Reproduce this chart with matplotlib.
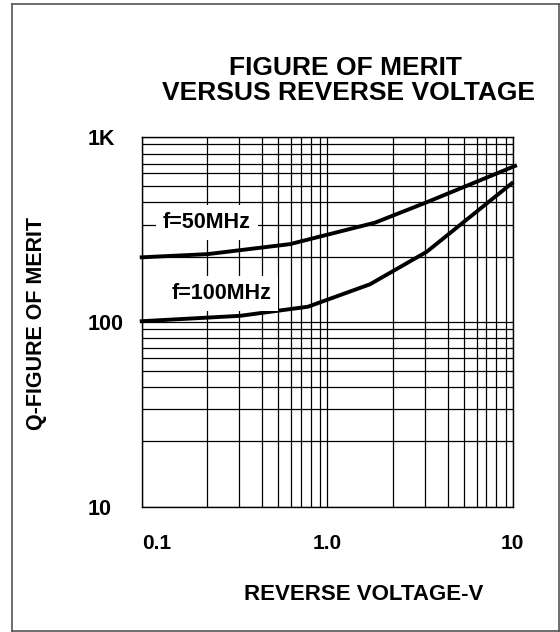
import matplotlib
matplotlib.use("Agg")
import matplotlib.pyplot as plt
from matplotlib.ticker import FixedLocator, NullFormatter
from matplotlib.lines import Line2D

plt.rcParams['font.family'] = ['Liberation Sans', 'DejaVu Sans']
plt.rcParams['font.weight'] = 'bold'

# data
v_50 = [0.1, 0.226, 0.63, 1.81, 3.44, 10.3]
q_50 = [224, 233, 264, 345, 445, 700]
v_100 = [0.1, 0.339, 0.788, 1.70, 3.44, 9.88]
q_100 = [101, 108, 121, 160, 240, 563]

x_ticks = [0.1, 1.0, 10]
x_tick_labels = ["0.1", "1.0", "10"]
y_ticks = [10, 100, 1000]
y_tick_labels = ["10", "100", "1K"]

# grid spacing of the printed paper (per decade)
grid_steps = [2.26, 3.36, 4.47, 5.45, 6.4, 7.2, 8.15, 9.15]

W, H = 560, 632
fig = plt.figure(figsize=(W / 100, H / 100), dpi=100)
ax = fig.add_axes([141.7 / W, 1 - 506.7 / H, (512.7 - 141.7) / W, (506.7 - 137.3) / H])

ax.set_xscale("log")
ax.set_yscale("log")
ax.set_xlim(0.1, 10)
ax.set_ylim(10, 1000)

x_minor = [s * d for d in [0.1, 1.0] for s in grid_steps]
y_minor = [s * d for d in [10, 100] for s in grid_steps]
ax.xaxis.set_minor_locator(FixedLocator(x_minor))
ax.yaxis.set_minor_locator(FixedLocator(y_minor))
ax.xaxis.set_minor_formatter(NullFormatter())
ax.yaxis.set_minor_formatter(NullFormatter())

ax.set_xticks(x_ticks)
ax.set_xticklabels(x_tick_labels)
ax.set_yticks(y_ticks)
ax.set_yticklabels(y_tick_labels)

ax.grid(True, which="both", color="black", linewidth=0.9)
ax.tick_params(which="both", length=0)
ax.tick_params(axis="x", pad=20, labelsize=15)
ax.tick_params(axis="y", pad=39, labelsize=15.5)
for lab in ax.get_yticklabels():
    lab.set_horizontalalignment("left")
xl = ax.get_xticklabels()
xl[0].set_horizontalalignment("left")
for sp in ax.spines.values():
    sp.set_linewidth(1.0)
    sp.set_color("black")

ax.plot(v_50, q_50, color="black", linewidth=2.8, clip_on=False, zorder=4)
ax.plot(v_100, q_100, color="black", linewidth=2.8, clip_on=False, zorder=4)

box = dict(facecolor="white", edgecolor="none", pad=5)
ax.text(0.225, 345, "f=50MHz", fontsize=15.5, fontweight="bold",
        ha="center", va="center", bbox=box, zorder=5)
ax.text(0.269, 143, "f=100MHz", fontsize=15.5, fontweight="bold",
        ha="center", va="center", bbox=box, zorder=5)

fig.text(345 / W, 1 - 68 / H, "FIGURE OF MERIT", fontsize=19, fontweight="bold",
         ha="center", va="center")
fig.text(348 / W, 1 - 93 / H, "VERSUS REVERSE VOLTAGE", fontsize=19, fontweight="bold",
         ha="center", va="center")
fig.text(364 / W, 1 - 595 / H, "REVERSE VOLTAGE-V", fontsize=16, fontweight="bold",
         ha="center", va="center")
fig.text(37 / W, 1 - 324 / H, "Q-FIGURE OF MERIT", fontsize=15.5, fontweight="bold",
         ha="center", va="center", rotation=90)

# outer frame
for xs, ys in [((12, 12), (4, 631)), ((12, 559), (4, 4)),
               ((559, 559), (4, 631)), ((12, 559), (631, 631))]:
    fig.add_artist(Line2D([x / W for x in xs], [1 - y / H for y in ys],
                          color="#555555", linewidth=1.2))

fig.savefig("out.png", dpi=100)
